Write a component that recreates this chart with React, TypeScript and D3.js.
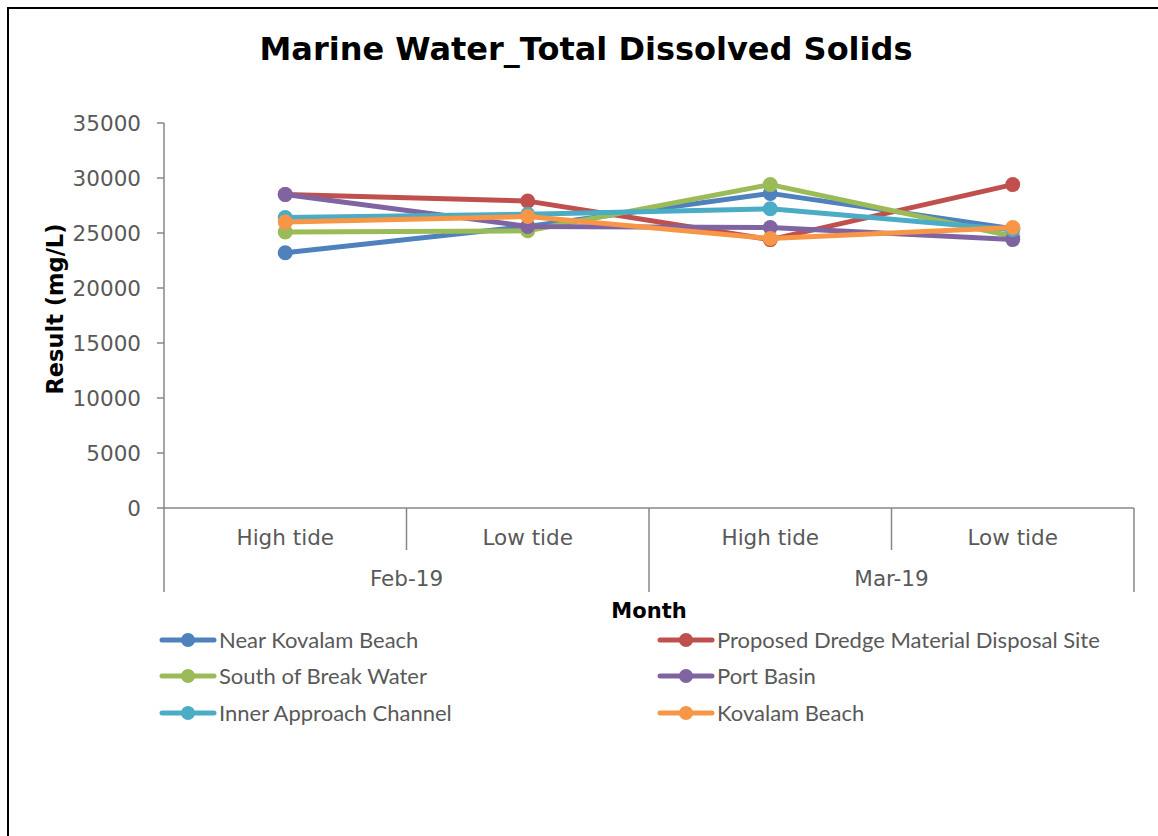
import React from "react";
import * as d3 from "d3";

const subCategories = ["High tide", "Low tide", "High tide", "Low tide"];
const months = ["Feb-19", "Mar-19"];
const seriesNames = [
  "Near Kovalam Beach",
  "Proposed Dredge Material Disposal Site",
  "South of Break Water",
  "Port Basin",
  "Inner Approach Channel",
  "Kovalam Beach",
];
const nearKovalam = [23200, 25600, 28600, 25400];
const proposedDredge = [28500, 27900, 24400, 29400];
const southBreakWater = [25100, 25200, 29400, 24700];
const portBasin = [28500, 25600, 25500, 24400];
const innerApproach = [26400, 26700, 27200, 25300];
const kovalamBeach = [26000, 26500, 24500, 25500];
const seriesValues = [nearKovalam, proposedDredge, southBreakWater, portBasin, innerApproach, kovalamBeach];
const colors = ["#4F81BD", "#C0504D", "#9BBB59", "#8064A2", "#4BACC6", "#F79646"];
const yTicks = [0, 5000, 10000, 15000, 20000, 25000, 30000, 35000];

export default function App() {
  const W = 1158, H = 836;
  const left = 164, right = 1134, top = 123, bottom = 508;
  const x = d3.scaleBand<number>().domain(d3.range(4)).range([left, right]).padding(0);
  const y = d3.scaleLinear().domain([0, 35000]).range([bottom, top]);
  const line = d3.line<number>().x((_, i) => x(i)! + x.bandwidth() / 2).y((d) => y(d));
  const axisColor = "#878787";
  const tickFont = "'DejaVu Sans', Verdana, sans-serif";
  const legendFont = "Lato, 'Open Sans', sans-serif";
  const monthScale = d3.scaleBand<number>().domain([0, 1]).range([left, right]);
  const legendCols = [160, 658];
  const legendRows = [640, 676, 713];

  return (
    <svg width={W} height={H} style={{ position: "absolute", left: 0, top: 0 }}>
      <rect x={0} y={0} width={W} height={H} fill="#fff" />
      <rect x={8} y={8} width={1170} height={850} fill="none" stroke="#000" strokeWidth={2} />
      <text x={586} y={60} textAnchor="middle" fontFamily={tickFont} fontWeight="bold" fontSize={32} fill="#000">
        Marine Water_Total Dissolved Solids
      </text>
      {/* y axis */}
      <line x1={left} x2={left} y1={top} y2={bottom} stroke={axisColor} strokeWidth={1.5} />
      {yTicks.map((t) => (
        <g key={t}>
          <line x1={left - 7} x2={left} y1={y(t)} y2={y(t)} stroke={axisColor} strokeWidth={1.5} />
          <text x={141} y={y(t) + 7.5} textAnchor="end" fontFamily={tickFont} fontSize={21.5} fill="#595959">
            {t}
          </text>
        </g>
      ))}
      <text
        transform={`translate(63,309) rotate(-90)`}
        textAnchor="middle"
        fontFamily={tickFont}
        fontWeight="bold"
        fontSize={22.5}
        fill="#000"
      >
        Result (mg/L)
      </text>
      {/* x axis */}
      <line x1={left} x2={right} y1={bottom} y2={bottom} stroke={axisColor} strokeWidth={1.5} />
      {d3.range(5).map((i) => {
        const xx = i < 4 ? x(i)! : right;
        const long = i % 2 === 0;
        return (
          <line key={i} x1={xx} x2={xx} y1={bottom} y2={long ? 592 : 550} stroke={axisColor} strokeWidth={1.5} />
        );
      })}
      {subCategories.map((c, i) => (
        <text key={i} x={x(i)! + x.bandwidth() / 2} y={545} textAnchor="middle" fontFamily={tickFont} fontSize={21.5} fill="#595959">
          {c}
        </text>
      ))}
      {months.map((m, i) => (
        <text key={m} x={monthScale(i)! + monthScale.bandwidth() / 2} y={586} textAnchor="middle" fontFamily={tickFont} fontSize={21.5} fill="#595959">
          {m}
        </text>
      ))}
      <text x={649} y={618} textAnchor="middle" fontFamily={tickFont} fontWeight="bold" fontSize={21} fill="#000">
        Month
      </text>
      {/* series */}
      {seriesValues.map((vals, s) => (
        <g key={s}>
          <path d={line(vals)!} fill="none" stroke={colors[s]} strokeWidth={5} strokeLinejoin="round" strokeLinecap="round" />
          {vals.map((v, i) => (
            <circle key={i} cx={x(i)! + x.bandwidth() / 2} cy={y(v)} r={7.5} fill={colors[s]} />
          ))}
        </g>
      ))}
      {/* legend */}
      {seriesNames.map((n, s) => {
        const cx = legendCols[s % 2];
        const cy = legendRows[Math.floor(s / 2)];
        return (
          <g key={n}>
            <line x1={cx + 2} x2={cx + 54} y1={cy} y2={cy} stroke={colors[s]} strokeWidth={5} strokeLinecap="round" />
            <circle cx={cx + 28} cy={cy} r={7} fill={colors[s]} />
            <text x={cx + 59} y={cy + 8} fontFamily={legendFont} fontSize={22} fill="#595959">
              {n}
            </text>
          </g>
        );
      })}
    </svg>
  );
}
